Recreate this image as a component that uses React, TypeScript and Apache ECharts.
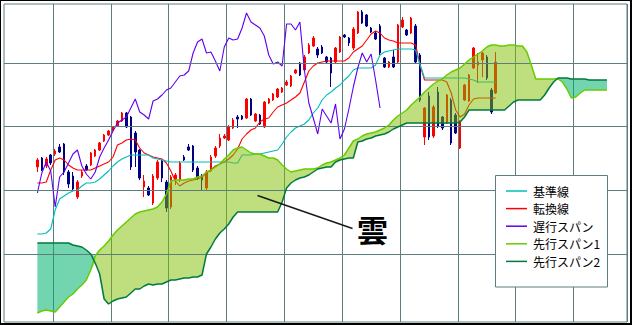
import React, { useEffect, useRef } from 'react';
import * as echarts from 'echarts';

// ---- data (values are heights; larger = higher) ----
const SLOTS = 140;
const categories = Array.from({ length: SLOTS }, (_, i) => String(i + 1));

const CANDLE_FROM = 7;
// [open, close, low, high]
const candles: number[][] = [
  [155, 162, 150, 164], [164, 152, 151, 165], [156, 163, 154, 165], [167, 159, 157, 168], [168, 171, 166, 173],
  [175, 170, 169, 178], [178, 150, 147, 179], [150, 138, 134, 152], [146, 133, 132, 150], [125, 140, 123, 142],
  [146, 150, 144, 152], [156, 152, 151, 158], [157, 169, 156, 170], [166, 172, 165, 173], [172, 179, 171, 180],
  [181, 187, 180, 188], [187, 191, 186, 192], [192, 195, 191, 196], [196, 201, 195, 202], [201, 209, 200, 210],
  [209, 195, 194, 210], [205, 155, 152, 206], [189, 170, 155, 191], [172, 144, 142, 173], [135, 141, 125, 147],
  [134, 127, 126, 136], [119, 146, 117, 148], [144, 160, 142, 162], [161, 144, 140, 162], [140, 114, 110, 142],
  [115, 145, 113, 147], [143, 147, 137, 149], [142, 159, 140, 161], [165, 162, 161, 167], [175, 172, 171, 178],
  [176, 152, 150, 177], [154, 144, 142, 156], [146, 142, 132, 148], [134, 150, 132, 152], [151, 165, 150, 167],
  [166, 174, 164, 176], [176, 184, 174, 188], [184, 186, 183, 188], [182, 195, 181, 197], [194, 202, 193, 204],
  [205, 203, 194, 207], [206, 203, 202, 207], [204, 223, 203, 224], [223, 207, 206, 224], [201, 208, 200, 209],
  [207, 198, 197, 208], [195, 220, 194, 221], [219, 223, 218, 224], [222, 228, 221, 229], [225, 233, 224, 234],
  [230, 234, 229, 235], [237, 240, 236, 242], [236, 246, 235, 247], [249, 252, 248, 253], [259, 247, 246, 260],
  [252, 265, 251, 267], [269, 277, 268, 279], [276, 284, 275, 286], [273, 267, 264, 275], [275, 269, 268, 277],
  [265, 260, 259, 266], [264, 249, 235, 265], [260, 274, 259, 275], [270, 285, 269, 286], [287, 285, 284, 288],
  [284, 279, 276, 285], [274, 293, 272, 295], [289, 310, 288, 311], [310, 299, 298, 312], [307, 296, 295, 308],
  [294, 290, 289, 295], [289, 283, 282, 291], [296, 269, 267, 298], [264, 255, 254, 265], [255, 260, 254, 261],
  [265, 255, 254, 272], [260, 297, 259, 298], [295, 302, 294, 305], [292, 287, 286, 293], [289, 304, 288, 305],
  [296, 260, 258, 298], [267, 222, 220, 269], [185, 214, 177, 215], [226, 185, 182, 230], [186, 215, 184, 217],
  [230, 196, 194, 235], [205, 194, 192, 206], [199, 227, 198, 228], [222, 179, 177, 224], [207, 189, 188, 209],
  [174, 201, 173, 202], [222, 237, 221, 238], [221, 247, 220, 248], [254, 274, 253, 275], [257, 260, 239, 269],
  [262, 269, 245, 270], [265, 244, 242, 267], [232, 210, 208, 234], [229, 260, 228, 270],
];

const LINES_FROM = 7;
const tenkan = [
  139, 139, 140, 152, 162, 164, 162, 157, 154, 152,
  152, 152, 152, 154, 156, 158, 160, 165, 177, 179,
  182, 183, 182, 174, 169, 167, 165, 164, 163, 159,
  151, 141, 136, 139, 141, 142, 143, 145, 149, 152,
  156, 158, 160, 163, 167, 173, 183, 188, 192, 194,
  200, 203, 204, 210, 215, 217, 219, 222, 225, 229,
  240, 251, 256, 259, 260, 261, 261, 261, 261, 261,
  264, 270, 273, 276, 282, 288, 291, 289, 284, 282,
  281, 279, 279, 279, 279, 277, 257, 242, 242, 242,
  242, 242, 240, 229, 212, 205, 208, 217, 223, 224,
  224, 224, 224, 224,
];
const kijun = [
  88, 88, 89, 93, 112, 123, 126, 129, 131, 132,
  136, 139, 139, 140, 143, 147, 151, 156, 160, 163,
  165, 167, 167, 167, 167, 167, 164, 163, 162, 161,
  160, 160, 160, 160, 160, 160, 160, 160, 160, 160,
  160, 160, 160, 160, 159, 159, 167, 167, 167, 168,
  168, 169, 170, 171, 172, 178, 185, 190, 194, 196,
  198, 202, 209, 214, 222, 227, 230, 234, 237, 242,
  246, 252, 254, 254, 254, 254, 257, 267, 270, 271,
  272, 273, 273, 273, 273, 272, 257, 244, 244, 244,
  244, 244, 244, 244, 244, 244, 244, 243, 242, 240,
  240, 240, 240, 240,
];
const CHIKOU_FROM = 7;
const chikou = [
  129, 149, 160, 151, 115, 145, 150, 159, 168, 172,
  156, 148, 143, 150, 165, 174, 182, 191, 199, 202,
  205, 214, 223, 210, 207, 203, 221, 223, 227, 232,
  234, 240, 246, 247, 251, 269, 280, 283, 269, 270,
  261, 251, 275, 284, 282, 283, 294, 309, 300, 297,
  294, 286, 267, 258, 260, 256, 298, 298, 292, 300,
  252, 219, 204, 188, 213, 206, 199, 218, 183, 193,
  213, 235, 254, 269, 260, 268, 242, 214,
];
const SPAN_FROM = 7;
const spanA = [
  9, 11, 12, 11, 10, 15, 20, 25, 28, 33,
  37, 42, 52, 66, 72, 76, 81, 87, 92, 96,
  100, 104, 108, 110, 111, 112, 113, 115, 120, 128,
  141, 142, 142, 142, 143, 143, 145, 146, 150, 152,
  155, 158, 163, 167, 172, 174, 175, 172, 169, 168,
  168, 166, 164, 164, 162, 157, 153, 150, 151, 152,
  153, 153, 153, 154, 157, 159, 160, 162, 164, 167,
  174, 181, 183, 186, 188, 189, 190, 192, 194, 197,
  202, 206, 209, 212, 217, 221, 225, 230, 234, 238,
  241, 243, 247, 250, 252, 254, 258, 262, 265, 268,
  271, 275, 277, 277, 276, 276, 277, 277, 276, 276,
  270, 257, 243, 243, 243, 243, 243, 243, 240, 233,
  224, 225, 229, 232, 232, 232, 232, 232, 232,
];
const spanB = [
  79, 79, 79, 79, 79, 79, 79, 79, 77, 76,
  75, 72, 68, 59, 48, 23, 18, 21, 23, 24,
  25, 29, 33, 33, 36, 38, 37, 38, 38, 40,
  42, 42, 43, 44, 44, 45, 45, 47, 68, 75,
  83, 89, 93, 98, 105, 110, 110, 110, 110, 110,
  110, 110, 110, 110, 110, 120, 134, 139, 142, 144,
  145, 147, 150, 153, 154, 155, 155, 160, 162, 163,
  164, 164, 180, 181, 183, 184, 186, 187, 188, 190,
  193, 195, 197, 199, 199, 199, 199, 199, 199, 199,
  199, 199, 199, 199, 199, 200, 205, 212, 212, 212,
  212, 212, 212, 212, 212, 212, 216, 220, 222, 222,
  222, 222, 222, 222, 227, 234, 240, 244, 244, 244,
  243, 243, 243, 243, 242, 242, 242, 242, 242,
];
const hGridLevels = [258.5, 195.5, 131.5, 67.5];
const legendNames = ['基準線', '転換線', '遅行スパン', '先行スパン1', '先行スパン2'];
const cloudLabel = '雲';

// ---- styles ----
const GRID_COLOR = '#5b7f7f';
const FONT = '"Noto Sans CJK JP", sans-serif';

function place<T>(from: number, arr: T[]): (T | null)[] {
  const out: (T | null)[] = new Array(SLOTS).fill(null);
  arr.forEach((v, i) => {
    out[from + i] = v;
  });
  return out;
}

export default function App() {
  const ref = useRef<HTMLDivElement>(null);
  useEffect(() => {
    if (!ref.current) return;
    const chart = echarts.init(ref.current, null, { renderer: 'svg' });

    const candleData = place(CANDLE_FROM, candles).map((d) => (d ? d : ['-', '-', '-', '-']));
    const A = place(SPAN_FROM, spanA);
    const B = place(SPAN_FROM, spanB);
    const cloudBase = A.map((a, i) => (a == null || B[i] == null ? null : Math.min(a, B[i] as number)));
    const cloudUp = A.map((a, i) => (a == null || B[i] == null ? null : Math.max(a - (B[i] as number), 0)));
    const cloudDown = A.map((a, i) => (a == null || B[i] == null ? null : Math.max((B[i] as number) - a, 0)));

    const lineBase = {
      type: 'line',
      symbol: 'none',
      showSymbol: false,
      silent: true,
      connectNulls: false,
    };

    chart.setOption({
      animation: false,
      textStyle: { fontFamily: FONT },
      grid: {
        left: 4,
        right: 5,
        top: 4,
        bottom: 3,
        show: true,
        borderColor: GRID_COLOR,
        borderWidth: 1,
        backgroundColor: '#fff',
      },
      xAxis: {
        type: 'category',
        data: categories,
        boundaryGap: true,
        axisLine: { show: false },
        axisTick: { show: false },
        axisLabel: { show: false },
        splitLine: {
          show: true,
          interval: (i: number) => i % 13 === 11,
          lineStyle: { color: GRID_COLOR, width: 1 },
        },
      },
      yAxis: {
        type: 'value',
        min: 0,
        max: 318,
        axisLine: { show: false },
        axisTick: { show: false },
        axisLabel: { show: false },
        splitLine: { show: false },
      },
      legend: {
        data: legendNames,
        orient: 'vertical',
        left: 506,
        top: 185,
        padding: 0,
        itemGap: 5.6,
        itemWidth: 21,
        itemHeight: 1.5,
        icon: 'rect',
        selectedMode: false,
        z: 20,
        textStyle: { fontSize: 12, color: '#000', fontFamily: FONT, padding: [0, 0, 0, 1] },
      },
      graphic: [
        {
          type: 'rect',
          z: 10,
          shape: { x: 495.5, y: 175.5, width: 112, height: 111.5 },
          style: { fill: '#fff', stroke: GRID_COLOR, lineWidth: 1 },
        },
        {
          type: 'line',
          z: 10,
          shape: { x1: 257.5, y1: 195.5, x2: 352.5, y2: 228.5 },
          style: { stroke: '#1a1a1a', lineWidth: 1.5 },
        },
        {
          type: 'text',
          z: 10,
          x: 357,
          y: 213,
          style: {
            text: cloudLabel,
            fontSize: 31,
            fontWeight: 'bold',
            fontFamily: FONT,
            fill: '#000',
            verticalAlign: 'top',
          },
        },
        { type: 'rect', z: 100, shape: { x: 0, y: 0, width: 632, height: 1 }, style: { fill: '#000' } },
        { type: 'rect', z: 100, shape: { x: 0, y: 0, width: 1, height: 325 }, style: { fill: '#000' } },
        { type: 'rect', z: 100, shape: { x: 630, y: 0, width: 2, height: 325 }, style: { fill: '#000' } },
        { type: 'rect', z: 100, shape: { x: 0, y: 323, width: 632, height: 2 }, style: { fill: '#000' } },
      ],
      series: [
        {
          ...lineBase,
          name: 'grid',
          data: new Array(SLOTS).fill(null),
          z: 1,
          markLine: {
            silent: true,
            symbol: ['none', 'none'],
            label: { show: false },
            lineStyle: { color: GRID_COLOR, width: 1, type: 'solid' },
            data: hGridLevels.map((v) => ({ yAxis: v })),
          },
        },
        {
          type: 'candlestick',
          name: 'price',
          data: candleData,
          barWidth: 2,
          z: 2,
          silent: true,
          itemStyle: {
            color: '#ff0000',
            color0: '#000080',
            borderColor: '#ff0000',
            borderColor0: '#000080',
            borderWidth: 1,
          },
        },
        {
          ...lineBase,
          name: '転換線',
          data: place(LINES_FROM, tenkan),
          z: 3,
          color: '#ff0000',
          lineStyle: { color: '#ff0000', width: 1.1 },
        },
        {
          ...lineBase,
          name: '基準線',
          data: place(LINES_FROM, kijun),
          z: 3,
          color: '#00bcbc',
          lineStyle: { color: '#00bcbc', width: 1.1 },
        },
        {
          ...lineBase,
          name: '遅行スパン',
          data: place(CHIKOU_FROM, chikou),
          z: 3,
          color: '#6000f0',
          lineStyle: { color: '#6000f0', width: 1.1 },
        },
        {
          ...lineBase,
          name: 'cloudBase',
          data: cloudBase,
          stack: 'cloud',
          z: 4,
          lineStyle: { opacity: 0 },
        },
        {
          ...lineBase,
          name: 'cloudUp',
          data: cloudUp,
          stack: 'cloud',
          z: 4,
          lineStyle: { opacity: 0 },
          areaStyle: { color: '#80c000', opacity: 0.5 },
        },
        {
          ...lineBase,
          name: 'cloudDown',
          data: cloudDown,
          stack: 'cloud',
          z: 4,
          lineStyle: { opacity: 0 },
          areaStyle: { color: '#00b070', opacity: 0.55 },
        },
        {
          ...lineBase,
          name: '先行スパン1',
          data: A,
          z: 5,
          color: '#66cc00',
          lineStyle: { color: '#66cc00', width: 1.5 },
        },
        {
          ...lineBase,
          name: '先行スパン2',
          data: B,
          z: 5,
          color: '#007a3d',
          lineStyle: { color: '#007a3d', width: 1.5 },
        },
      ],
    });
    return () => chart.dispose();
  }, []);

  return (
    <div
      ref={ref}
      style={{ position: 'fixed', left: 0, top: 0, width: 632, height: 325, background: '#fff' }}
    />
  );
}
